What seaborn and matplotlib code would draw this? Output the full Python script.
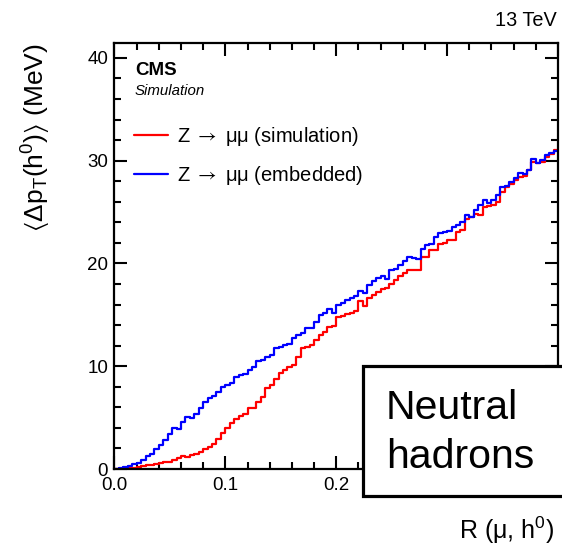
import numpy as np
import pandas as pd
import matplotlib
matplotlib.use("Agg")
import matplotlib.pyplot as plt
from matplotlib.patches import Rectangle
from matplotlib.ticker import MultipleLocator
import seaborn as sns

# ---- data ----
r_min, r_max, n_bins = 0.0, 0.4, 100

embedded = [
    0.05, 0.1, 0.15, 0.25, 0.45, 0.55, 0.9, 1.25, 1.5, 1.95,
    2.35, 2.8, 3.4, 3.95, 3.85, 4.55, 5.1, 4.95, 5.4, 5.9,
    6.55, 6.95, 7.15, 7.5, 8.0, 8.2, 8.4, 9.0, 9.1, 9.2,
    9.6, 9.95, 10.5, 10.6, 10.9, 11.1, 11.75, 11.9, 12.1, 12.2,
    12.7, 13.0, 13.2, 13.7, 13.75, 14.3, 15.0, 15.15, 15.55, 15.15,
    15.95, 16.2, 16.4, 16.6, 16.85, 17.35, 17.1, 17.9, 18.3, 18.55,
    18.8, 18.45, 19.35, 19.5, 19.85, 20.2, 20.65, 20.5, 20.4, 21.45,
    21.8, 21.9, 22.55, 23.0, 23.1, 23.2, 23.5, 23.75, 24.05, 24.7,
    24.5, 25.25, 25.7, 26.15, 25.9, 26.15, 26.65, 27.45, 27.5, 27.95,
    28.3, 28.8, 28.7, 29.1, 30.2, 29.75, 30.05, 30.55, 30.75, 30.95,
]

simulation = [
    0.03, 0.05, 0.08, 0.1, 0.12, 0.2, 0.3, 0.4, 0.4, 0.45,
    0.55, 0.65, 0.7, 0.85, 1.05, 1.25, 1.2, 1.35, 1.5, 1.7,
    1.9, 2.1, 2.45, 2.95, 3.5, 3.95, 4.45, 4.9, 5.15, 5.4,
    5.9, 5.95, 6.55, 7.05, 7.85, 8.15, 8.8, 9.3, 9.6, 9.95,
    10.1, 10.9, 11.75, 11.9, 12.05, 12.55, 13.0, 13.35, 13.85, 13.95,
    14.75, 14.9, 15.1, 15.2, 15.4, 16.3, 15.85, 16.6, 16.9, 17.25,
    17.5, 17.65, 18.0, 18.4, 18.8, 19.1, 19.35, 19.35, 19.4, 20.65,
    20.6, 21.3, 21.35, 21.9, 22.0, 22.3, 22.3, 23.1, 23.25, 24.3,
    24.55, 24.8, 24.7, 25.45, 25.6, 25.7, 26.0, 27.0, 27.45, 27.7,
    28.1, 28.4, 28.5, 29.1, 29.9, 29.75, 29.9, 30.4, 30.65, 31.0,
]

label_sim = r"Z $\rightarrow$ μμ (simulation)"
label_emb = r"Z $\rightarrow$ μμ (embedded)"
x_ticks = [0.0, 0.1, 0.2, 0.3, 0.4]
y_ticks = [0, 10, 20, 30, 40]

# ---- style ----
sns.set_theme(style="ticks")
plt.rcParams["font.family"] = ["Liberation Sans", "DejaVu Sans"]
plt.rcParams["mathtext.fontset"] = "custom"
plt.rcParams["mathtext.rm"] = "Liberation Sans"
plt.rcParams["mathtext.it"] = "Liberation Sans:italic"
plt.rcParams["mathtext.bf"] = "Liberation Sans:bold"
plt.rcParams["mathtext.fallback"] = "stixsans"
for key in ["text.color", "axes.labelcolor", "xtick.color", "ytick.color",
            "axes.edgecolor", "xtick.labelcolor", "ytick.labelcolor"]:
    plt.rcParams[key] = "black"

fig = plt.figure(figsize=(5.62, 5.45), dpi=100)
ax = fig.add_axes([0.2037, 0.1394, 0.7892, 0.7817])

bw = (r_max - r_min) / n_bins
centers = r_min + bw * (np.arange(n_bins) + 0.5)
df_sim = pd.DataFrame({"R": centers, "val": simulation})
df_emb = pd.DataFrame({"R": centers, "val": embedded})

sns.histplot(data=df_sim, x="R", weights="val", binwidth=bw,
             binrange=(r_min, r_max), element="step", fill=False,
             color="#ff0000", linewidth=1.6, ax=ax, label=label_sim)
sns.histplot(data=df_emb, x="R", weights="val", binwidth=bw,
             binrange=(r_min, r_max), element="step", fill=False,
             color="#0000ff", linewidth=1.6, ax=ax, label=label_emb)

ax.set_xlim(0.0, 0.4)
ax.set_ylim(0, 41.45)
ax.set_xticks(x_ticks)
ax.set_xticklabels([f"{v:.1f}" for v in x_ticks])
ax.set_yticks(y_ticks)
ax.xaxis.set_minor_locator(MultipleLocator(0.02))
ax.yaxis.set_minor_locator(MultipleLocator(2))
for s in ax.spines.values():
    s.set_linewidth(1.6)
    s.set_color("black")
ax.tick_params(which="both", direction="in", top=True, right=True,
               color="black", width=1.5)
ax.tick_params(which="major", length=9.5, labelsize=13.5)
ax.tick_params(axis="y", which="major", pad=4.5)
ax.tick_params(axis="x", which="major", pad=6)
ax.tick_params(which="minor", length=5)

ax.set_xlabel("R (\u03bc, h$^{0}$)", fontsize=18, ha="right")
ax.xaxis.set_label_coords(0.992, -0.108)
ax.set_ylabel(r"$\langle\Delta\mathrm{p}_{\mathrm{T}}(\mathrm{h}^{0})\rangle$ (MeV)",
              fontsize=19, ha="right")
ax.yaxis.set_label_coords(-0.138, 1.0)

leg = ax.legend(loc="upper left", bbox_to_anchor=(134 / 562, 1 - 125 / 545),
                bbox_transform=fig.transFigure, frameon=False, fontsize=14.5,
                borderpad=0, borderaxespad=0, handlelength=1.7,
                handletextpad=0.45, labelspacing=0.8)
for t in leg.get_texts():
    t.set_math_fontfamily("stixsans")

fig.text(135 / 562, 1 - 75 / 545, "CMS", fontsize=13.5, fontweight="bold",
         ha="left", va="baseline")
fig.text(135 / 562, 1 - 95 / 545, "Simulation", fontsize=10.8, style="italic",
         ha="left", va="baseline")
fig.text(557 / 562, 1 - 26 / 545, "13 TeV", fontsize=14.3, ha="right",
         va="baseline")

box = Rectangle((363 / 562, 1 - 496 / 545), 0.5, (496 - 366) / 545,
                transform=fig.transFigure, facecolor="white",
                edgecolor="black", linewidth=2.3, zorder=10)
fig.add_artist(box)
fig.text(386 / 562, 1 - 419 / 545, "Neutral", fontsize=29.5, ha="left",
         va="baseline", zorder=11)
fig.text(386 / 562, 1 - 468 / 545, "hadrons", fontsize=29.5, ha="left",
         va="baseline", zorder=11)

fig.savefig("out.png", dpi=100)
